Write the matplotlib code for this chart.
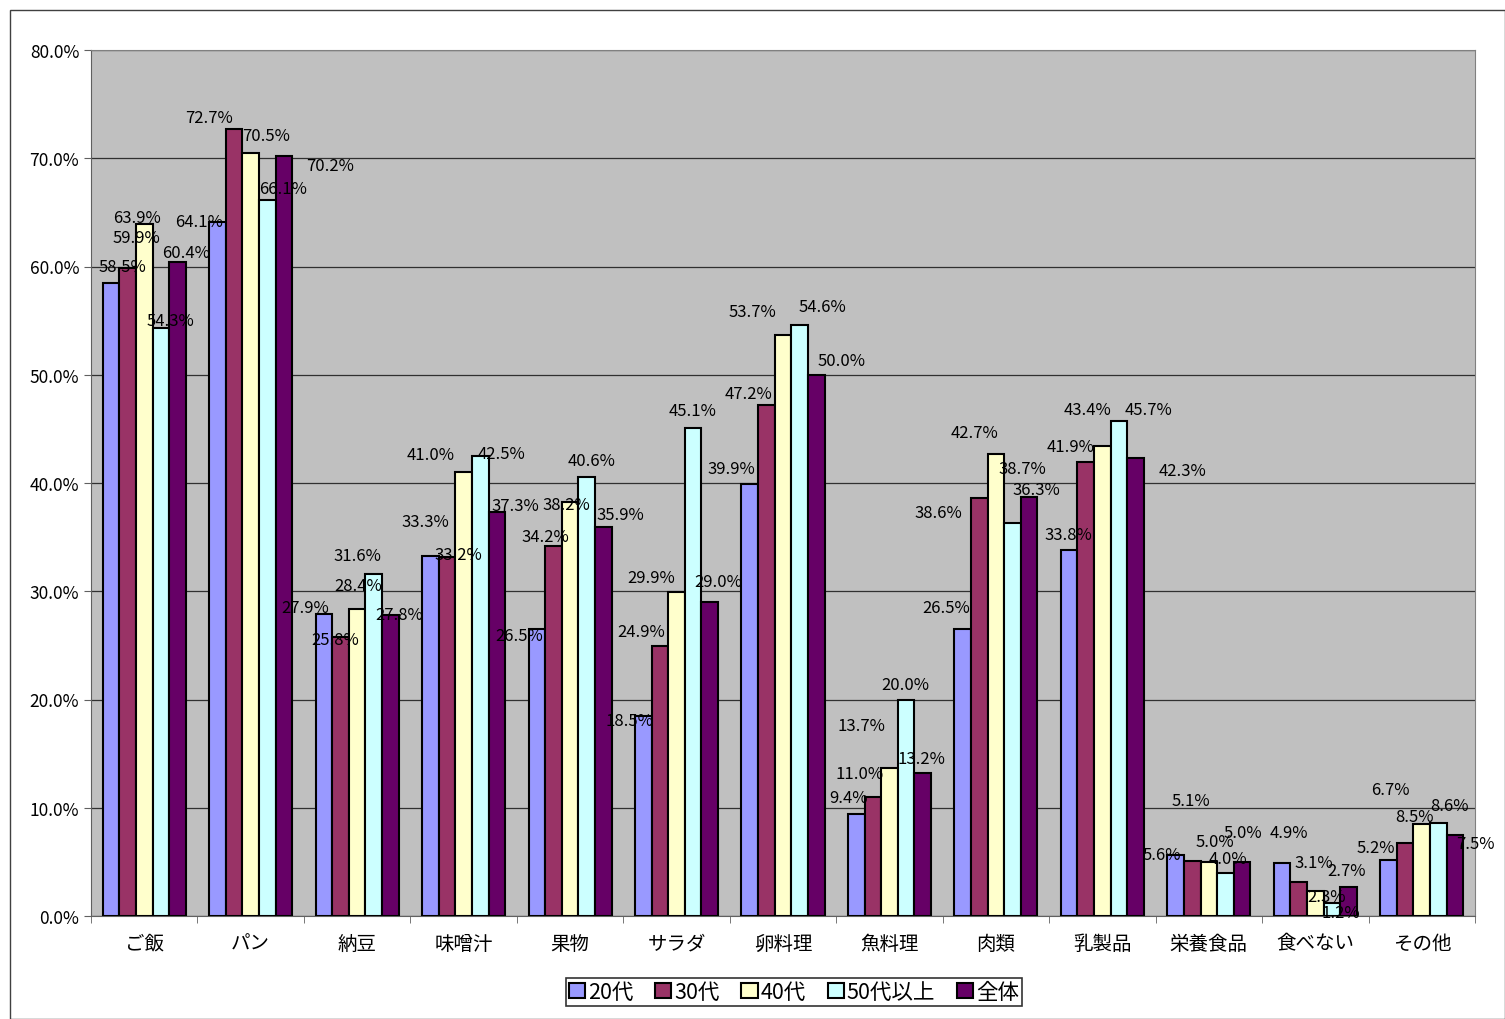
import numpy as np
import matplotlib.pyplot as plt
from matplotlib.patches import Rectangle
from matplotlib.ticker import MultipleLocator, FuncFormatter

plt.rcParams['font.family'] = ['Noto Sans CJK JP', 'DejaVu Sans']

categories = ['ご飯', 'パン', '納豆', '味噌汁', '果物', 'サラダ', '卵料理',
              '魚料理', '肉類', '乳製品', '栄養食品', '食べない', 'その他']
series_names = ['20代', '30代', '40代', '50代以上', '全体']

v_20 = [58.5, 64.1, 27.9, 33.3, 26.5, 18.5, 39.9, 9.4, 26.5, 33.8, 5.6, 4.9, 5.2]
v_30 = [59.9, 72.7, 25.8, 33.2, 34.2, 24.9, 47.2, 11.0, 38.6, 41.9, 5.1, 3.1, 6.7]
v_40 = [63.9, 70.5, 28.4, 41.0, 38.2, 29.9, 53.7, 13.7, 42.7, 43.4, 5.0, 2.3, 8.5]
v_50 = [54.3, 66.1, 31.6, 42.5, 40.6, 45.1, 54.6, 20.0, 36.3, 45.7, 4.0, 1.2, 8.6]
v_all = [60.4, 70.2, 27.8, 37.3, 35.9, 29.0, 50.0, 13.2, 38.7, 42.3, 5.0, 2.7, 7.5]
series = [v_20, v_30, v_40, v_50, v_all]

colors = ['#9999FF', '#993366', '#FFFFCC', '#CCFFFF', '#660066']

# label offsets in pixels from bar top centre (dx, dy up), per category, per series
label_offsets = [
    [(11, 16), (9, 30), (-7, 7), (10, 8), (9, 10)],
    [(-18, 1), (-25, 12), (15, 17), (16, 12), (46, -9)],
    [(-19, 6), (-5, -3), (1, 23), (-16, 18), (9, 1)],
    [(-5, 34), (11, 2), (-33, 18), (21, 2), (19, 7)],
    [(-18, -6), (-8, 9), (-4, -2), (5, 16), (17, 13)],
    [(-14, -5), (-19, 15), (-25, 15), (-1, 17), (8, 21)],
    [(-18, 16), (-18, 12), (-31, 23), (23, 18), (25, 14)],
    [(-8, 17), (-13, 23), (-28, 42), (-1, 15), (-1, 15)],
    [(-17, 22), (-41, -14), (-21, 21), (24, 34), (-7, 29)],
    [(-1, 16), (-15, 16), (-15, 37), (30, 12), (47, -12)],
    [(-14, 1), (-1, 60), (6, 20), (2, 14), (1, 29)],
    [(7, 30), (15, 20), (11, -5), (9, -9), (-2, 16)],
    [(-13, 12), (-15, 54), (-7, 7), (11, 17), (20, -9)],
]

fig = plt.figure(figsize=(15.05, 10.2), dpi=100)
fig.patches.append(Rectangle((10 / 1505, 0.0), 1 - 10 / 1505, 1 - 11 / 1020,
                             transform=fig.transFigure, fill=False,
                             edgecolor='#404040', linewidth=1))
ax = fig.add_axes([91 / 1505, 103 / 1020, 1384 / 1505, 866 / 1020])
ax.set_facecolor('#C0C0C0')

x = np.arange(len(categories))
width = 0.156
for j, (vals, name, col) in enumerate(zip(series, series_names, colors)):
    pos = x + (j - 2) * width
    ax.bar(pos, vals, width, color=col, edgecolor='black', linewidth=1.5,
           label=name, zorder=3)
    for i, v in enumerate(vals):
        dx, dy = label_offsets[i][j]
        ax.annotate(f'{v:.1f}%', (pos[i], v), xytext=(dx, dy),
                    textcoords='offset pixels', ha='center', va='center',
                    fontsize=12, color='black', zorder=4)

ax.set_xlim(-0.5, len(categories) - 0.5)
ax.set_ylim(0, 80)
ax.yaxis.set_major_locator(MultipleLocator(10))
ax.yaxis.set_major_formatter(FuncFormatter(lambda v, p: f'{v:.1f}%'))
ax.grid(axis='y', color='#303030', linewidth=0.9, zorder=1)
ax.set_axisbelow(True)

ax.set_xticks(x)
ax.set_xticklabels(categories, fontsize=14)
ax.set_xticks(np.arange(-0.5, len(categories)), minor=True)
ax.tick_params(axis='x', which='major', length=0, pad=12)
ax.tick_params(axis='x', which='minor', length=5, color='#606060')
ax.tick_params(axis='y', labelsize=12.5, length=5, color='#606060')

for side in ['top', 'right']:
    ax.spines[side].set_color('#808080')
for side in ['left', 'bottom']:
    ax.spines[side].set_color('#606060')

leg = fig.legend(loc='center', bbox_to_anchor=(794 / 1505, 1 - 993 / 1020),
                 ncol=5, fontsize=15.5, frameon=True, fancybox=False,
                 edgecolor='black', handlelength=0.75, handleheight=0.75,
                 handletextpad=0.15, columnspacing=1.0, borderpad=0.15)
leg.get_frame().set_linewidth(1.2)

fig.savefig('out.png', dpi=100)
